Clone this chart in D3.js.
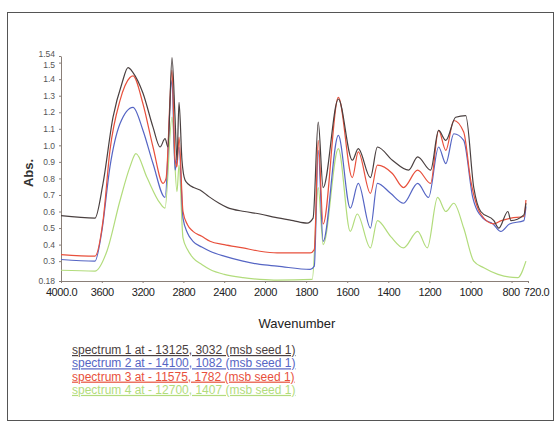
<!DOCTYPE html>
<html>
<head>
<meta charset="utf-8">
<script src="https://cdn.jsdelivr.net/npm/d3@7"></script>
<style>
  body { margin: 0; background: #fff; }
  svg { display: block; font-family: "Liberation Sans", Arial, sans-serif; }
</style>
</head>
<body>
<svg id="chart" width="560" height="427"></svg>
<script>
// wavenumbers (cm-1) and absorbance
const wn1 = [4000, 3667, 3588, 3490, 3400, 3343, 3294, 3196, 3098, 3029, 2980, 2951, 2912, 2882, 2863, 2843, 2814, 2784, 2750, 2700, 2637, 2550, 2450, 2373, 2200, 2049, 1950, 1863, 1795, 1766, 1741, 1717, 1643, 1575, 1546, 1487, 1453, 1380, 1301, 1257, 1194, 1155, 1120, 1072, 1023, 984, 950, 886, 862, 818, 803, 740, 730];
const abs1 = [0.575, 0.56, 0.77, 1.17, 1.38, 1.47, 1.44, 1.315, 1.11, 0.99, 1.04, 0.99, 1.53, 1.17, 0.91, 1.26, 0.91, 0.79, 0.765, 0.745, 0.73, 0.69, 0.65, 0.625, 0.60, 0.585, 0.565, 0.545, 0.53, 0.56, 1.14, 0.745, 1.28, 0.91, 0.98, 0.805, 0.99, 0.91, 0.85, 0.93, 0.85, 1.09, 1.03, 1.17, 1.18, 0.745, 0.6, 0.545, 0.5, 0.6, 0.545, 0.58, 0.65];

const wn2 = [4000, 3667, 3600, 3520, 3422, 3294, 3196, 3098, 2980, 2912, 2882, 2843, 2804, 2760, 2706, 2620, 2539, 2400, 2216, 2050, 1941, 1780, 1760, 1741, 1717, 1643, 1585, 1546, 1487, 1453, 1389, 1326, 1257, 1204, 1155, 1120, 1081, 1033, 989, 940, 890, 852, 810, 740, 730];
const abs2 = [0.31, 0.30, 0.48, 0.87, 1.13, 1.23, 1.09, 0.89, 0.685, 1.395, 0.85, 0.99, 0.56, 0.47, 0.42, 0.385, 0.36, 0.33, 0.30, 0.28, 0.27, 0.25, 0.27, 0.97, 0.42, 1.06, 0.62, 0.77, 0.5, 0.77, 0.71, 0.65, 0.77, 0.685, 0.99, 0.89, 1.07, 1.03, 0.685, 0.56, 0.525, 0.48, 0.525, 0.545, 0.63];

const wn3 = [4000, 3667, 3588, 3520, 3422, 3324, 3294, 3196, 3098, 3000, 2970, 2912, 2882, 2863, 2843, 2804, 2760, 2706, 2620, 2539, 2400, 2216, 2050, 1941, 1780, 1760, 1741, 1717, 1643, 1575, 1546, 1487, 1453, 1380, 1326, 1257, 1194, 1155, 1120, 1081, 1033, 999, 950, 886, 850, 803, 740, 730];
const abs3 = [0.34, 0.33, 0.545, 0.97, 1.27, 1.41, 1.42, 1.25, 0.99, 0.77, 0.80, 1.455, 0.92, 0.87, 1.05, 0.6, 0.52, 0.48, 0.45, 0.42, 0.40, 0.38, 0.36, 0.35, 0.35, 0.37, 1.03, 0.525, 1.29, 0.805, 0.96, 0.71, 0.88, 0.83, 0.745, 0.85, 0.77, 1.09, 0.97, 1.15, 1.08, 0.79, 0.585, 0.525, 0.545, 0.56, 0.57, 0.67];

const wn4 = [4000, 3667, 3550, 3422, 3324, 3265, 3157, 3029, 2980, 2912, 2863, 2843, 2804, 2760, 2706, 2620, 2539, 2400, 2216, 2050, 1941, 1770, 1741, 1717, 1643, 1585, 1551, 1487, 1453, 1389, 1326, 1257, 1210, 1160, 1120, 1081, 1033, 984, 935, 866, 770, 730];
const abs4 = [0.245, 0.24, 0.36, 0.665, 0.87, 0.95, 0.805, 0.65, 0.62, 1.17, 0.72, 0.88, 0.44, 0.37, 0.32, 0.28, 0.25, 0.22, 0.2, 0.19, 0.185, 0.19, 0.745, 0.4, 0.98, 0.48, 0.585, 0.38, 0.545, 0.45, 0.38, 0.48, 0.38, 0.685, 0.6, 0.65, 0.5, 0.3, 0.26, 0.22, 0.2, 0.3];

const seriesNames = [
  "spectrum 1 at - 13125, 3032 (msb seed 1)",
  "spectrum 2 at - 14100, 1082 (msb seed 1)",
  "spectrum 3 at - 11575, 1782 (msb seed 1)",
  "spectrum 4 at - 12700, 1407 (msb seed 1)"
];
const colors = ["#4a4040", "#5565c4", "#e8503c", "#b2dc7c"];

const xTicks = [4000, 3600, 3200, 2800, 2400, 2000, 1800, 1600, 1400, 1200, 1000, 800, 720];
const yTicks = [0.18, 0.3, 0.4, 0.5, 0.6, 0.7, 0.8, 0.9, 1.0, 1.1, 1.2, 1.3, 1.4, 1.5, 1.54];

const svg = d3.select("#chart");

// frame
svg.append("rect")
  .attr("x", 7.5).attr("y", 12.5)
  .attr("width", 546).attr("height", 408)
  .attr("fill", "none").attr("stroke", "#555").attr("stroke-width", 1);

// FTIR style axis: scale changes at 2000
const x = d3.scaleLinear().domain([4000, 2000, 720]).range([61, 265, 528]);
const y = d3.scaleLinear().domain([0.18, 1.54]).range([281, 56]);

const xAxis = svg.append("g")
  .attr("transform", `translate(0,${y(0.18)})`)
  .call(d3.axisBottom(x).tickValues(xTicks).tickSize(2).tickSizeOuter(0)
    .tickFormat(d => (d === 4000 || d === 720) ? d.toFixed(1) : d));
xAxis.select(".domain").attr("stroke", "#8a7f78");
xAxis.selectAll(".tick line").attr("stroke", "#8a7f78");
xAxis.selectAll("text").attr("font-size", 11).attr("fill", "#222").attr("dy", "0.95em")
  .attr("letter-spacing", "-0.4");
xAxis.selectAll(".tick").filter(d => d === 720).select("text").attr("dx", 8);
xAxis.selectAll(".tick").filter(d => d === 800).select("text").attr("dx", -1);

const yAxis = svg.append("g")
  .attr("transform", `translate(${x(4000)},0)`)
  .call(d3.axisLeft(y).tickValues(yTicks).tickSize(2).tickSizeOuter(0)
    .tickFormat(d => (d === 0.18 || d === 1.54) ? d.toFixed(2) : d.toFixed(1)));
yAxis.select(".domain").attr("stroke", "#8a7f78");
yAxis.selectAll(".tick line").attr("stroke", "#8a7f78");
yAxis.selectAll("text").attr("font-size", 8.5).attr("fill", "#555").attr("dx", "-1");
yAxis.selectAll(".tick").filter(d => d === 1.54).select("text").attr("dy", "0.1em");
yAxis.selectAll(".tick").filter(d => d === 1.5).select("text").attr("dy", "0.55em");

// axis titles
svg.append("text")
  .attr("transform", `translate(33,${173}) rotate(-90)`)
  .attr("text-anchor", "middle")
  .attr("font-size", 13).attr("font-weight", "bold").attr("fill", "#333")
  .text("Abs.");

svg.append("text")
  .attr("x", 297).attr("y", 328)
  .attr("text-anchor", "middle")
  .attr("font-size", 13).attr("fill", "#222")
  .text("Wavenumber");

// spectra
const line = d3.line().x(d => x(d[0])).y(d => y(d[1])).curve(d3.curveMonotoneX);
const spectra = [
  d3.zip(wn4, abs4),
  d3.zip(wn2, abs2),
  d3.zip(wn3, abs3),
  d3.zip(wn1, abs1)
];
const order = [3, 1, 2, 0];
svg.append("g").selectAll("path")
  .data(spectra)
  .join("path")
  .attr("fill", "none")
  .attr("stroke", (d, i) => colors[order[i]])
  .attr("stroke-width", 1.2)
  .attr("stroke-linejoin", "round")
  .attr("d", line);

// legend
svg.append("g").selectAll("text")
  .data(seriesNames)
  .join("text")
  .attr("x", 72)
  .attr("y", (d, i) => 354 + i * 13.3)
  .attr("font-size", 12)
  .attr("fill", (d, i) => colors[i])
  .attr("text-decoration", "underline")
  .text(d => d);
</script>
</body>
</html>
